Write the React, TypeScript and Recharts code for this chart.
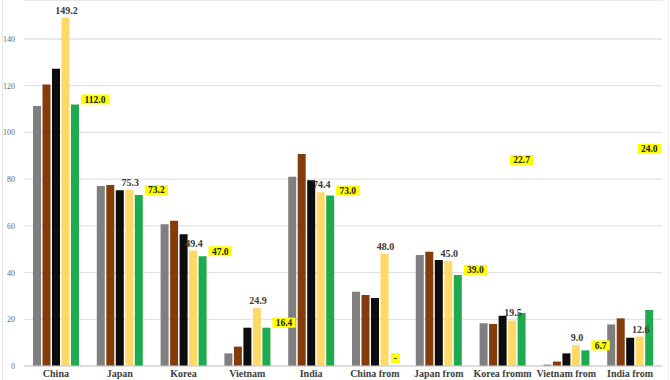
import React from "react";
import { BarChart, Bar, XAxis, YAxis, CartesianGrid, LabelList } from "recharts";

const categories = ["China", "Japan", "Korea", "Vietnam", "India", "China from", "Japan from", "Korea fromm", "Vietnam from", "India from"];
const seriesGray = [111.3, 77.1, 60.7, 5.4, 81.0, 31.8, 47.5, 18.3, 0.6, 17.8];
const seriesBrown = [120.5, 77.5, 62.2, 8.3, 90.8, 30.4, 48.9, 18.0, 1.9, 20.4];
const seriesBlack = [127.3, 75.2, 56.4, 16.4, 79.5, 29.1, 45.4, 21.5, 5.4, 12.1];
const seriesYellow = [149.2, 75.3, 49.4, 24.9, 74.4, 48.0, 45.0, 19.5, 9.0, 12.6];
const seriesGreen = [112.0, 73.2, 47.0, 16.4, 73.0, 0, 39.0, 22.7, 6.7, 24.0];
const yTicks = [0, 20, 40, 60, 80, 100, 120, 140];

const data = categories.map((c, i) => ({
  name: c,
  gray: seriesGray[i],
  brown: seriesBrown[i],
  black: seriesBlack[i],
  yellow: seriesYellow[i],
  green: seriesGreen[i],
}));

const SERIF = "'Liberation Serif', 'DejaVu Serif', serif";
const BAR = 8;
const GAP = 1.5;

// green labels that float high above their bar in the reference (pixel lift)
const floatingLift: Record<string, number> = { "Korea fromm": 153, "India from": 161 };

// Draws the yellow value label and, beside it, the highlighted green value label.
const PairLabel = (props: any) => {
  const { x, y, width, height, value, index } = props;
  const X = Number(x);
  const Y = Number(y);
  const W = Number(width);
  const H = Number(height);
  const base = Y + H;
  const pxPerUnit = H / Number(value);
  const g = seriesGreen[index];
  const name = categories[index];
  const gx = X + W + GAP;
  const gTop = base - g * pxPerUnit;
  const txt = g === 0 ? "-" : g.toFixed(1);
  const bw = txt.length * 4.8 + 4;
  const bh = 10;
  let bx: number;
  let cy: number;
  if (floatingLift[name] !== undefined) {
    bx = gx + W / 2 - bw / 2;
    cy = gTop - floatingLift[name];
  } else if (g === 0) {
    bx = gx + 1;
    cy = gTop - 8;
  } else {
    bx = gx + W + 2;
    cy = gTop - 5;
  }
  return (
    <g>
      <text
        x={X + W / 2 + 1}
        y={Y - 4}
        textAnchor="middle"
        fontFamily={SERIF}
        fontSize={10}
        fontWeight={600}
        fill="#3a3a3a"
      >
        {Number(value).toFixed(1)}
      </text>
      <rect x={bx} y={cy - bh / 2} width={bw} height={bh} fill="#ffff00" />
      <text
        x={bx + bw / 2}
        y={cy + 3.3}
        textAnchor="middle"
        fontFamily={SERIF}
        fontSize={9.5}
        fontWeight="bold"
        fill="#222"
      >
        {txt}
      </text>
    </g>
  );
};

const YTick = (props: any) => {
  const { x, y, payload } = props;
  return (
    <text x={Number(x)} y={Number(y) + 3} textAnchor="end" fontFamily={SERIF} fontSize={8} fill="#666">
      {String(payload.value)}
    </text>
  );
};

export default function App() {
  return (
    <div style={{ position: "absolute", left: 0, top: 0, width: 670, height: 380, background: "#fff" }}>
      <div style={{ position: "absolute", left: 2, top: 0, width: 1, height: 380, background: "#e4e4e4" }} />
      <div style={{ position: "absolute", left: 668, top: 0, width: 1, height: 380, background: "#eeeeee" }} />
      <BarChart
        width={670}
        height={380}
        data={data}
        margin={{ top: 0, right: 8, bottom: 0, left: 0 }}
        barSize={BAR}
        barGap={GAP}
        style={{ position: "absolute", left: 0, top: 0 }}
      >
        <CartesianGrid vertical={false} stroke="#e2e2e2" strokeWidth={1.3} />
        <XAxis
          dataKey="name"
          height={14}
          tickLine={false}
          tickSize={0}
          tickMargin={4}
          axisLine={{ stroke: "#d0d0d0" }}
          interval={0}
          tick={{ fontFamily: SERIF, fontSize: 10, fontWeight: "bold", fill: "#404040" }}
        />
        <YAxis
          width={24}
          domain={[0, 156.7]}
          ticks={yTicks}
          interval={0}
          allowDataOverflow
          axisLine={false}
          tickLine={false}
          tickSize={6}
          tickMargin={3}
          tick={YTick}
        />
        <Bar dataKey="gray" fill="#7f7f7f" isAnimationActive={false} />
        <Bar dataKey="brown" fill="#843c0c" isAnimationActive={false} />
        <Bar dataKey="black" fill="#0d0d0d" isAnimationActive={false} />
        <Bar dataKey="yellow" fill="#ffd966" isAnimationActive={false}>
          <LabelList dataKey="yellow" content={PairLabel} />
        </Bar>
        <Bar dataKey="green" fill="#1faa50" isAnimationActive={false} />
      </BarChart>
    </div>
  );
}
